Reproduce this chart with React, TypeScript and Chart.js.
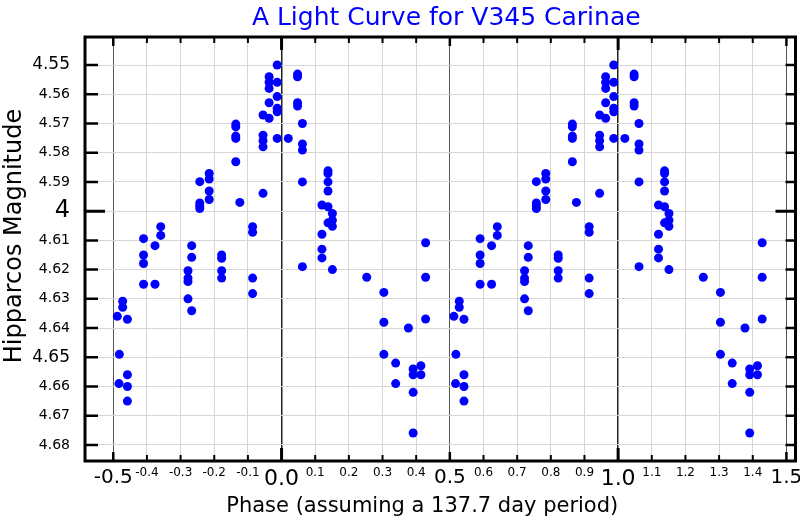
import React, { useEffect, useRef } from "react";
import { Chart, registerables } from "chart.js";

Chart.register(...registerables);

const TITLE = "A Light Curve for V345 Carinae";
const X_TITLE = "Phase (assuming a 137.7 day period)";
const Y_TITLE = "Hipparcos Magnitude";

// Observations folded on one cycle (phase in [-0.5, 0.5)); plotted twice (p and p+1)
const PHASE = [
  -0.488, -0.482, -0.483,
  -0.472, -0.472,
  -0.458, -0.458, -0.458, -0.458,
  -0.41, -0.41, -0.41, -0.41,
  -0.376, -0.376,
  -0.359, -0.359,
  -0.278, -0.278, -0.278, -0.278,
  -0.267, -0.267, -0.267,
  -0.243, -0.243, -0.243, -0.243,
  -0.215, -0.215, -0.215, -0.215,
  -0.178, -0.178, -0.178, -0.178,
  -0.136, -0.136, -0.136, -0.136, -0.136,
  -0.124,
  -0.086, -0.086, -0.086, -0.086,
  -0.055, -0.055, -0.055, -0.055, -0.055,
  -0.037, -0.037, -0.037, -0.037, -0.037,
  -0.013, -0.013, -0.013, -0.013, -0.013, -0.013,
  0.02,
  0.0475, 0.0475, 0.0475, 0.0475,
  0.062, 0.062, 0.062, 0.062, 0.062,
  0.12, 0.12, 0.12, 0.12,
  0.138, 0.138, 0.138, 0.138, 0.138, 0.138,
  0.151, 0.151, 0.151, 0.151,
  0.253,
  0.304, 0.304, 0.304,
  0.339, 0.339,
  0.377,
  0.391, 0.391, 0.391, 0.391,
  0.414, 0.414,
  0.428, 0.428, 0.428,
];

const MAGNITUDE = [
  4.636, 4.649, 4.659,
  4.6308, 4.6329,
  4.637, 4.656, 4.66, 4.665,
  4.6094, 4.615, 4.6179, 4.625,
  4.6118, 4.625,
  4.6053, 4.6083,
  4.6204, 4.6229, 4.6241, 4.63,
  4.6118, 4.6158, 4.6341,
  4.5899, 4.5972, 4.5982, 4.5991,
  4.5871, 4.589, 4.5931, 4.596,
  4.615, 4.6161, 4.6204, 4.6229,
  4.5702, 4.5711, 4.5743, 4.5751, 4.5831,
  4.597,
  4.6053, 4.6072, 4.6229, 4.6282,
  4.5671, 4.574, 4.5759, 4.578, 4.5939,
  4.554, 4.5559, 4.558, 4.5629, 4.5682,
  4.55, 4.5559, 4.5608, 4.5648, 4.566, 4.5751,
  4.5751,
  4.5531, 4.554, 4.5629, 4.564,
  4.57, 4.577, 4.5791, 4.59, 4.619,
  4.5979, 4.6079, 4.613, 4.616,
  4.5862, 4.5871, 4.59, 4.5931, 4.5985, 4.604,
  4.6008, 4.6031, 4.6052, 4.62,
  4.6226,
  4.6278, 4.638, 4.649,
  4.652, 4.659,
  4.64,
  4.654, 4.656, 4.662, 4.6759,
  4.6529, 4.656,
  4.6108, 4.6226, 4.6369,
];

const CYCLE_OFFSETS = [0, 1];

const X_TICK_VALUES = [
  -0.5, -0.4, -0.3, -0.2, -0.1, 0.0, 0.1, 0.2, 0.3, 0.4, 0.5,
  0.6, 0.7, 0.8, 0.9, 1.0, 1.1, 1.2, 1.3, 1.4, 1.5,
];
const X_TICK_LABELS = [
  "-0.5", "-0.4", "-0.3", "-0.2", "-0.1", "0.0", "0.1", "0.2", "0.3", "0.4", "0.5",
  "0.6", "0.7", "0.8", "0.9", "1.0", "1.1", "1.2", "1.3", "1.4", "1.5",
];
const Y_TICK_VALUES = [
  4.55, 4.56, 4.57, 4.58, 4.59, 4.6, 4.61, 4.62, 4.63, 4.64, 4.65, 4.66, 4.67, 4.68,
];
const Y_TICK_LABELS = [
  "4.55", "4.56", "4.57", "4.58", "4.59", "4", "4.61", "4.62", "4.63", "4.64", "4.65", "4.66", "4.67", "4.68",
];

const X_MIN = -0.584;
const X_MAX = 1.527;
const Y_MIN = 4.5404;
const Y_MAX = 4.6855;

const FONT = '"DejaVu Sans", "Liberation Sans", sans-serif';

const near = (a: number, b: number) => Math.abs(a - b) < 1e-6;
const isInt = (v: number) => near(v, Math.round(v));
const isHalf = (v: number) => near(v * 2, Math.round(v * 2));
const xKind = (v: number) => (isInt(v) ? 2 : isHalf(v) ? 1 : 0);
const yKind = (v: number) => (near(v, 4.6) ? 2 : near(v, 4.55) || near(v, 4.65) ? 1 : 0);

const decorPlugin = {
  id: "decor",
  afterDraw(chart: any) {
    const { ctx, chartArea: a, scales } = chart;
    const x = scales.x;
    const y = scales.y;
    ctx.save();
    ctx.strokeStyle = "#000";
    ctx.lineCap = "butt";
    // x tick marks (inward, top and bottom)
    X_TICK_VALUES.forEach((v) => {
      const px = x.getPixelForValue(v);
      const k = xKind(v);
      const len = k === 2 ? 13 : k === 1 ? 9 : 6;
      ctx.lineWidth = k === 2 ? 3 : k === 1 ? 2.5 : 2;
      ctx.beginPath();
      ctx.moveTo(px, a.bottom);
      ctx.lineTo(px, a.bottom - len);
      ctx.moveTo(px, a.top);
      ctx.lineTo(px, a.top + len);
      ctx.stroke();
    });
    // y tick marks
    Y_TICK_VALUES.forEach((v) => {
      const py = y.getPixelForValue(v);
      const k = yKind(v);
      const big = k === 2;
      ctx.lineWidth = big ? 3 : 2.5;
      ctx.beginPath();
      ctx.moveTo(a.left, py);
      ctx.lineTo(a.left + (big ? 20 : 13), py);
      ctx.moveTo(a.right, py);
      ctx.lineTo(a.right - (big ? 20 : 10), py);
      ctx.stroke();
    });
    // frame
    ctx.lineWidth = 3;
    ctx.strokeRect(a.left, a.top, a.right - a.left, a.bottom - a.top);

    // titles
    const cx = (a.left + a.right) / 2;
    ctx.textAlign = "center";
    ctx.textBaseline = "middle";
    ctx.fillStyle = "#0000ff";
    ctx.font = `25px ${FONT}`;
    ctx.fillText(TITLE, cx + 6, 18);

    ctx.fillStyle = "#000";
    ctx.font = `21px ${FONT}`;
    ctx.fillText(X_TITLE, cx - 18, 507);

    ctx.save();
    ctx.translate(15, (a.top + a.bottom) / 2 - 13);
    ctx.rotate(-Math.PI / 2);
    ctx.font = `24px ${FONT}`;
    ctx.fillText(Y_TITLE, 0, 0);
    ctx.restore();

    ctx.restore();
  },
};

export default function App() {
  const canvasRef = useRef<HTMLCanvasElement | null>(null);

  useEffect(() => {
    if (!canvasRef.current) return;
    const points: { x: number; y: number }[] = [];
    CYCLE_OFFSETS.forEach((off) => {
      PHASE.forEach((p, i) => points.push({ x: p + off, y: MAGNITUDE[i] }));
    });

    const chart = new Chart(canvasRef.current, {
      type: "scatter",
      data: {
        datasets: [
          {
            label: "V345 Carinae",
            data: points,
            backgroundColor: "#0000ff",
            borderColor: "#0000ff",
            borderWidth: 0,
            pointRadius: 4.5,
            pointHoverRadius: 4.5,
          },
        ],
      },
      options: {
        animation: false,
        responsive: false,
        events: [],
        layout: { padding: { top: 37, right: 4, left: 0, bottom: 0 } },
        plugins: {
          legend: { display: false },
          title: { display: false },
          tooltip: { enabled: false },
        },
        scales: {
          x: {
            type: "linear",
            min: X_MIN,
            max: X_MAX,
            afterBuildTicks: (scale: any) => {
              scale.ticks = X_TICK_VALUES.map((v) => ({ value: v }));
            },
            afterFit: (scale: any) => {
              scale.height = 59;
              scale.paddingLeft = 0;
              scale.paddingRight = 0;
            },
            border: { display: false },
            grid: {
              drawTicks: false,
              color: (ctx: any) => {
                const v = ctx.tick ? ctx.tick.value : 0;
                const k = xKind(v);
                return k === 2 ? "#222222" : k === 1 ? "#555555" : "#d6d6d6";
              },
              lineWidth: (ctx: any) => {
                const v = ctx.tick ? ctx.tick.value : 0;
                const k = xKind(v);
                return k === 2 ? 1.5 : 1;
              },
            },
            ticks: {
              autoSkip: false,
              maxRotation: 0,
              minRotation: 0,
              padding: 5,
              color: "#000",
              font: (ctx: any) => {
                const v = ctx.tick ? ctx.tick.value : 0;
                const k = xKind(v);
                return { family: FONT, size: k === 2 ? 22 : k === 1 ? 20 : 12 };
              },
              callback: (value: any, index: number) => X_TICK_LABELS[index],
            },
          },
          y: {
            type: "linear",
            reverse: true,
            min: Y_MIN,
            max: Y_MAX,
            afterBuildTicks: (scale: any) => {
              scale.ticks = Y_TICK_VALUES.map((v) => ({ value: v }));
            },
            afterFit: (scale: any) => {
              scale.width = 85;
              scale.paddingTop = 0;
              scale.paddingBottom = 0;
            },
            border: { display: false },
            grid: {
              drawTicks: false,
              color: "#d6d6d6",
              lineWidth: 1,
            },
            ticks: {
              padding: 15,
              color: "#000",
              font: (ctx: any) => {
                const v = ctx.tick ? ctx.tick.value : 0;
                const k = yKind(v);
                return { family: FONT, size: k === 2 ? 24 : k === 1 ? 17 : 14 };
              },
              callback: (value: any, index: number) => Y_TICK_LABELS[index],
            },
          },
        },
      },
      plugins: [decorPlugin],
    });
    return () => chart.destroy();
  }, []);

  return (
    <div style={{ position: "fixed", left: 0, top: 0, width: 800, height: 520, background: "#fff" }}>
      <canvas ref={canvasRef} width={800} height={520} />
    </div>
  );
}
